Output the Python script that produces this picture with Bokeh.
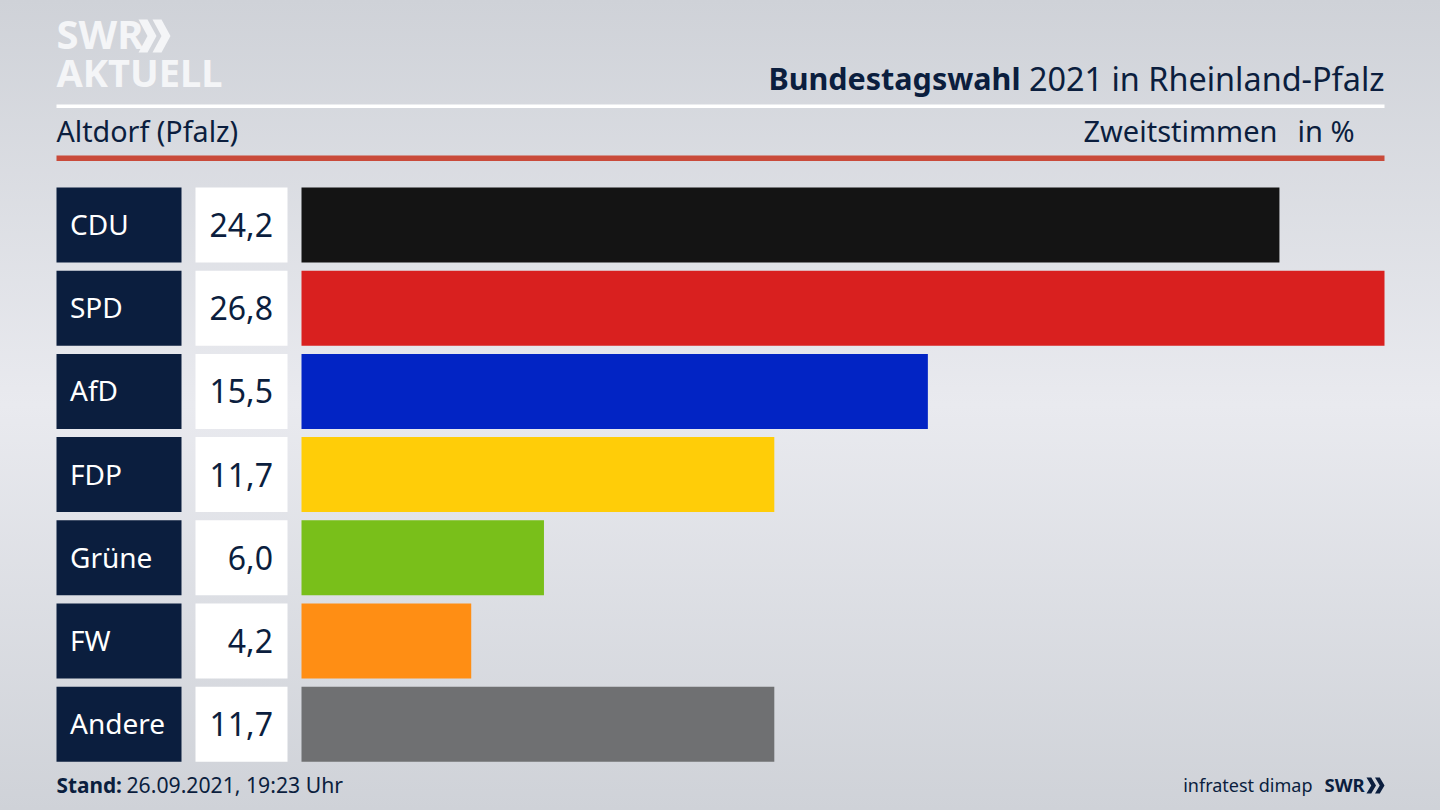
from bokeh.plotting import figure
from bokeh.models import Range1d, ColumnDataSource
from bokeh.core.properties import value
from bokeh.embed import file_html
from bokeh.resources import INLINE

parties = ["CDU", "SPD", "AfD", "FDP", "Grüne", "FW", "Andere"]
values = [24.2, 26.8, 15.5, 11.7, 6.0, 4.2, 11.7]
labels = ["24,2", "26,8", "15,5", "11,7", "6,0", "4,2", "11,7"]
colors = ["#141414", "#d9201f", "#0224c4", "#ffcd08", "#79bf1a", "#ff8e14", "#6f7072"]

NAVY = "#0b1e3e"
LOGO = "#f4f5f7"
W, H = 1440, 810
K = (1384 - 301) / 26.8   # px per percent
ROW = 83.2
FONT = value("Noto Sans")

def X(px):  # page pixel -> x data
    return (px - 301) / K
def Y(px):  # page pixel -> y data (row index)
    return (px - 224.5) / ROW

p = figure(width=W, height=H, output_backend="svg", toolbar_location=None,
           x_range=Range1d(X(0), X(W)), y_range=Range1d(Y(H), Y(0)),
           min_border=0, background_fill_color=None, border_fill_color=None,
           outline_line_color=None)
p.axis.visible = False
p.grid.visible = False

rows = list(range(len(parties)))
src = ColumnDataSource(dict(y=rows, party=parties, value=values, label=labels, color=colors))
BAR = 75 / ROW

p.hbar(y="y", left=0, right="value", height=BAR, fill_color="color", line_color=None, source=src)
p.hbar(y="y", left=X(56), right=X(181), height=BAR, fill_color=NAVY, line_color=None, source=src)
p.hbar(y="y", left=X(195), right=X(287), height=BAR, fill_color="white", line_color=None, source=src)
p.text(x=X(69.5), y="y", y_offset=-1, text="party", source=src, text_font=FONT, text_font_size="28px",
       text_color="white", text_baseline="middle", text_align="left")
p.text(x=X(272.5), y="y", text="label", source=src, text_font=FONT, text_font_size="32px",
       text_color=NAVY, text_baseline="middle", text_align="right")

# header rules
p.quad(left=X(56), right=X(1384), top=Y(104), bottom=Y(107.5), fill_color="white", line_color=None)
p.quad(left=X(56), right=X(1384), top=Y(155), bottom=Y(160.5), fill_color="#c94a3a", line_color=None)

def t(px, py, s, size, color=NAVY, align="left", style="normal"):
    p.text(x=[X(px)], y=[Y(py)], text=[s], text_font=FONT, text_font_size=f"{size}px",
           text_color=color, text_align=align, text_baseline="alphabetic", text_font_style=style)

def chevron(x, y, w, h, color):
    xs = [x, x + 0.5 * w, x + w, x + 0.5 * w, x, x + 0.5 * w]
    ys = [y, y, y + h / 2, y + h, y + h, y + h / 2]
    p.patch([X(v) for v in xs], [Y(v) for v in ys], fill_color=color, line_color=None)

t(1384, 77, "2021 in Rheinland-Pfalz", 32.4, align="right")
t(1020, 77, "Bundestagswahl", 30.5, align="right", style="bold")
t(56, 130, "Altdorf (Pfalz)", 28.7)
t(1277, 130, "Zweitstimmen", 29, align="right")
t(1354, 130, "in %", 29, align="right")
t(56, 784, "Stand:", 20.8, style="bold")
t(126, 784, "26.09.2021, 19:23 Uhr", 21.2)
t(1312, 784, "infratest dimap", 18, align="right")
t(1324, 784, "SWR", 18.5, style="bold")
chevron(1366, 777, 9.5, 16, NAVY)
chevron(1374.5, 777, 9.5, 16, NAVY)
t(56, 33, "SWR", 40, color=LOGO, style="bold")
chevron(138, 19, 18, 33, LOGO)
chevron(152, 19, 18, 33, LOGO)
t(56, 71, "AKTUELL", 38, color=LOGO, style="bold")

html = file_html(p, INLINE)
bg = ("<style>html{height:100%;background:linear-gradient(180deg,#cfd2d8 0,#e9eaef 50%,#cfd2d8 100%) no-repeat;"
      "background-size:100% 810px;}body{background:transparent;overflow:hidden;}</style></head>")
html = html.replace("</head>", bg, 1)
open("out.html", "w").write(html)
